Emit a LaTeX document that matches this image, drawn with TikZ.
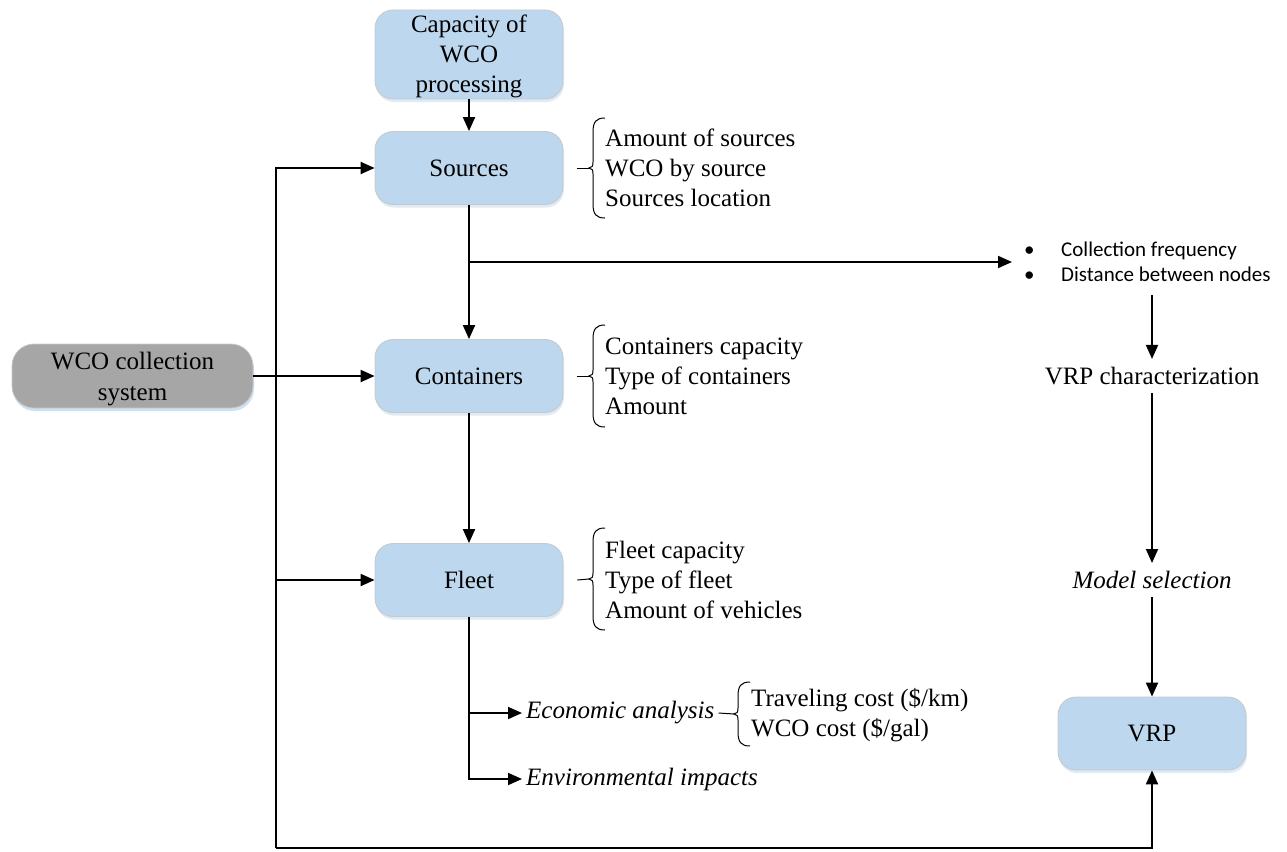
\documentclass[tikz,border=0pt]{standalone}
\usepackage{fontspec}
\setmainfont{Liberation Serif}
\newfontfamily\bulletfont{Carlito}
\usetikzlibrary{arrows.meta,shadows}
\definecolor{boxblue}{HTML}{BDD7EE}
\definecolor{boxgray}{HTML}{A6A6A6}
\definecolor{boxedge}{HTML}{C8C8C8}
\begin{document}
\begin{tikzpicture}[x=1pt,y=-1pt,
  every node/.style={font=\fontsize{25}{30}\selectfont},
  bluebox/.style={draw=boxedge, line width=0.8pt, fill=boxblue, rounded corners=18pt,
    minimum width=188pt, minimum height=73pt, inner sep=0pt, align=center,
    drop shadow={fill=boxblue, opacity=0.5, shadow xshift=1pt, shadow yshift=-3pt}},
  graybox/.style={bluebox, fill=boxgray, minimum width=241pt, minimum height=64pt,
    rounded corners=22pt, drop shadow={fill=boxblue, opacity=0.5, shadow xshift=1pt, shadow yshift=-3pt}},
  listtext/.style={anchor=west, align=left, inner sep=0pt},
  plain/.style={inner sep=8pt},
  arr/.style={line width=1.9pt, -{Triangle[length=14pt,width=12pt]}},
  brline/.style={line width=1pt},
  pics/lbrace/.style={code={
    \draw[brline] (12,-#1) .. controls (3,-#1) and (0,-#1+4) .. (0,-#1+14)
      -- (0,-6) .. controls (0,-2) and (-1,0) .. (-4,0)
      .. controls (-1,0) and (0,2) .. (0,6)
      -- (0,#1-14) .. controls (0,#1-4) and (3,#1) .. (12,#1);
    \coordinate (-tip) at (-4,0);
  }}
]
\useasboundingbox (0,0) rectangle (1287,851);

% boxes
\node[bluebox, minimum height=89pt] (cap) at (469,54.5) {};
\node[align=center, inner sep=0pt] (capt) at (469,56.5) {Capacity of\\WCO\\processing};
\node[bluebox] (src) at (469,168) {Sources};
\node[bluebox] (cont) at (469,376) {Containers};
\node[bluebox] (fleet) at (469,580) {Fleet};
\node[graybox] (wco) at (132.5,376) {};
\node[align=center, inner sep=0pt, font=\fontsize{25}{31}\selectfont] (wcot) at (132.5,379) {WCO collection\\system};
\node[bluebox] (vrp) at (1152,733.5) {VRP};

% lists with braces
\pic (sb) at (593,168) {lbrace=50};
\node[listtext] (srcl) at (605,168) {Amount of sources\\WCO by source\\Sources location};
\draw[brline] ([xshift=14pt]src.east) -- (sb-tip);

\pic (cb) at (593,376) {lbrace=51};
\node[listtext] (contl) at (605,376) {Containers capacity\\Type of containers\\Amount};
\draw[brline] ([xshift=14pt]cont.east) -- (cb-tip);

\pic (fb) at (593,579) {lbrace=51};
\node[listtext] (fleetl) at (605,580) {Fleet capacity\\Type of fleet\\Amount of vehicles};
\draw[brline] ([xshift=14pt]fleet.east) -- (fb-tip);

% right column
\node[listtext, font=\bulletfont\fontsize{21}{25}\selectfont] (bul) at (1024,262)
  {\makebox[37pt][l]{•}Collection frequency\\\makebox[37pt][l]{•}Distance between nodes};
\node[plain] (vrpc) at (1152,376) {VRP characterization};
\node[plain, font=\fontsize{25}{30}\selectfont\itshape] (ms) at (1152,580) {Model selection};
\coordinate (c1) at (1152,295);
\draw[arr] (c1) -- (c1 |- vrpc.north);
\draw[arr] (vrpc) -- (ms);
\draw[arr] (ms) -- (vrp);

% economic / environmental
\node[anchor=west, inner sep=4pt, font=\fontsize{25}{30}\selectfont\itshape] (econ) at (522,713) {Economic analysis};
\node[anchor=west, inner sep=4pt, font=\fontsize{25}{30}\selectfont\itshape] (env) at (522,779) {Environmental impacts};
\pic (eb) at (738,714) {lbrace=32};
\node[listtext] (econl) at (751,715) {Traveling cost (\$/km)\\WCO cost (\$/gal)};
\draw[brline] (econ.east) -- (eb-tip);

% connectors
\draw[arr] (cap) -- (src);
\draw[arr] (src) -- (cont);
\draw[arr] (cont) -- (fleet);
\coordinate (b1) at (469,262);
\draw[arr] (b1) -- ([xshift=-12pt]bul.west);
\draw[arr] (fleet.south) |- (env.west);
\coordinate (f1) at (469,713);
\draw[arr] (f1) -- (econ.west);

\coordinate (ltop) at (276,168);
\coordinate (lbot) at (276,848);
\draw[arr] (wco) -- (cont);
\draw[arr] (lbot) -- (ltop) -- (src.west);
\draw[arr] (ltop |- fleet) -- (fleet.west);
\draw[arr] (lbot) -| (vrp.south);
\end{tikzpicture}
\end{document}
